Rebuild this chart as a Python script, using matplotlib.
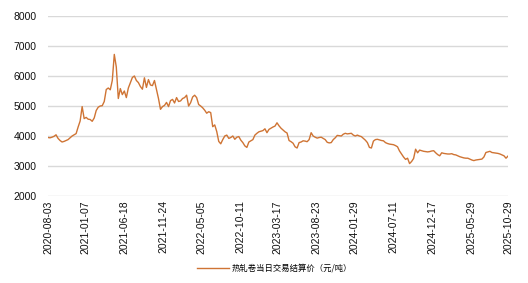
import numpy as np
import pandas as pd
import matplotlib
matplotlib.use("Agg")
import matplotlib.pyplot as plt

plt.rcParams["font.family"] = ["Liberation Sans", "Noto Sans CJK SC", "DejaVu Sans"]
plt.rcParams["axes.unicode_minus"] = False

# ---- 数据（从图上读取，约每 2 像素一个值）----
start, end = "2020-08-03", "2025-10-29"
values = [
    3950, 3940, 3960, 3990, 4040, 3920, 3850, 3800, 3820, 3850, 3880, 3940, 4000, 4040,
    4080, 4300, 4500, 4980, 4580, 4620, 4560, 4550, 4490, 4600, 4850, 4960, 5000, 5010,
    5150, 5550, 5600, 5540, 5850, 6720, 6300, 5250, 5580, 5380, 5500, 5280, 5600, 5780,
    5950, 6000, 5850, 5780, 5650, 5560, 5940, 5620, 5880, 5700, 5680, 5850, 5550, 5250,
    4890, 4980, 5020, 5120, 4980, 5180, 5220, 5100, 5280, 5150, 5170, 5250, 5280, 5360,
    5000, 5110, 5300, 5360, 5280, 5050, 5000, 4940, 4860, 4760, 4810, 4780, 4310, 4370,
    4150, 3820, 3740, 3880, 4000, 4030, 3920, 3950, 4000, 3890, 3960, 3980, 3860, 3780,
    3670, 3620, 3800, 3840, 3880, 4030, 4090, 4140, 4160, 4180, 4240, 4110, 4220, 4260,
    4300, 4330, 4440, 4340, 4260, 4200, 4140, 4100, 3850, 3810, 3760, 3640, 3600, 3780,
    3800, 3840, 3830, 3810, 3880, 4110, 4000, 3960, 3930, 3950, 3960, 3920, 3880, 3790,
    3770, 3780, 3880, 3940, 4020, 4010, 4000, 4060, 4090, 4070, 4080, 4090, 4030, 4000,
    4030, 4000, 3980, 3920, 3860, 3780, 3620, 3600, 3830, 3880, 3890, 3870, 3850, 3840,
    3780, 3750, 3730, 3720, 3710, 3680, 3640, 3500, 3400, 3300, 3220, 3260, 3080, 3150,
    3250, 3560, 3440, 3530, 3510, 3490, 3480, 3470, 3480, 3500, 3510, 3440, 3380, 3340,
    3440, 3420, 3410, 3400, 3400, 3410, 3380, 3370, 3340, 3310, 3290, 3270, 3260, 3260,
    3230, 3200, 3180, 3200, 3210, 3220, 3230, 3300, 3450, 3470, 3490, 3450, 3440, 3430,
    3420, 3400, 3370, 3340, 3260, 3330,
]
tick_labels = ["2020-08-03", "2021-01-07", "2021-06-18", "2021-11-24", "2022-05-05",
               "2022-10-11", "2023-03-17", "2023-08-23", "2024-01-29", "2024-07-11",
               "2024-12-17", "2025-05-29", "2025-10-29"]
y_ticks = [2000, 3000, 4000, 5000, 6000, 7000, 8000]
series_name = "热轧卷当日交易结算价（元/吨）"

dates = pd.date_range(start, end, periods=len(values))
line_c = "#cf7434"

fig = plt.figure(figsize=(5.28, 2.83), dpi=100)
ax = fig.add_axes([48/528, 87/283, 460/528, 180/283])
ln, = ax.plot(dates, values, color=line_c, lw=1.0)

ax.set_ylim(2000, 8000)
ax.set_yticks(y_ticks)
ax.set_xlim(pd.Timestamp(start), pd.Timestamp(end))
ax.set_xticks(pd.to_datetime(tick_labels))
ax.set_xticklabels(tick_labels, rotation=90)
ax.tick_params(axis="both", length=0, labelsize=7.5, colors="#111111")
ax.tick_params(axis="y", pad=8)
ax.tick_params(axis="x", pad=3)
ax.grid(axis="y", color="#d9d9d9", lw=1)
ax.set_axisbelow(True)
for s in ax.spines.values():
    s.set_visible(False)

fig.legend([ln], [series_name], loc="center", bbox_to_anchor=(0.52, 0.052),
           frameon=False, handlelength=3.8, handletextpad=0.3,
           prop=dict(family=["Noto Sans CJK SC", "DejaVu Sans"], size=6))

fig.savefig("out.png", dpi=100)
